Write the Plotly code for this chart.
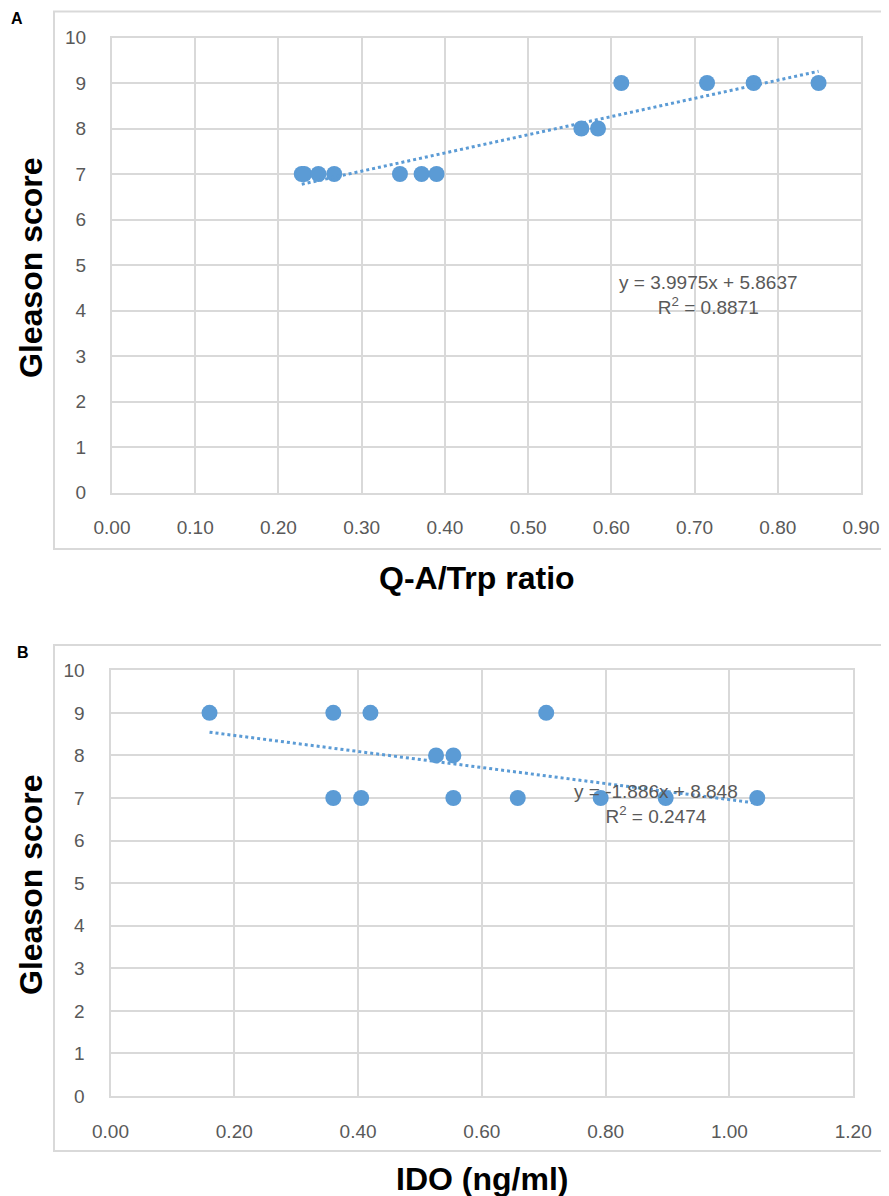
import plotly.graph_objects as go

# ---------------- data ----------------
qa_trp_ratio = [0.228, 0.231, 0.248, 0.267, 0.346, 0.372, 0.390, 0.564, 0.584, 0.612, 0.715, 0.771, 0.849]
gleason_a = [7, 7, 7, 7, 7, 7, 7, 8, 8, 9, 9, 9, 9]
trend_a = [3.9975, 5.8637]   # slope, intercept
r2_a = 0.8871

ido_ngml = [0.160, 0.360, 0.420, 0.704, 0.526, 0.554, 0.360, 0.405, 0.554, 0.658, 0.792, 0.897, 1.045]
gleason_b = [9, 9, 9, 9, 8, 8, 7, 7, 7, 7, 7, 7, 7]
trend_b = [-1.886, 8.848]
r2_b = 0.2474

x_ticks_a = [0.0, 0.1, 0.2, 0.3, 0.4, 0.5, 0.6, 0.7, 0.8, 0.9]
x_ticks_b = [0.0, 0.2, 0.4, 0.6, 0.8, 1.0, 1.2]
y_ticks = list(range(0, 11))

# ---------------- styling ----------------
OFF = 8                      # page body margin
W, H = 889 - OFF, 1196 - OFF
BLUE = "#5B9BD5"
GRID = "#D9D9D9"
TXT = "#595959"
TICKFONT = dict(family="Liberation Sans, Arial, sans-serif", size=19, color=TXT)

def px_x(p):
    return (p - OFF) / W

def px_y(p):
    return 1 - (p - OFF) / H

fig = go.Figure()

def add_panel(xs, ys, trend, xaxis, yaxis):
    fig.add_trace(go.Scatter(x=xs, y=ys, mode="markers",
                             marker=dict(size=16, color=BLUE),
                             xaxis=xaxis, yaxis=yaxis, showlegend=False,
                             hoverinfo="skip"))
    x0, x1 = min(xs), max(xs)
    fig.add_trace(go.Scatter(x=[x0, x1], y=[trend[0] * x0 + trend[1], trend[0] * x1 + trend[1]],
                             mode="lines", line=dict(color=BLUE, width=3, dash="dot"),
                             xaxis=xaxis, yaxis=yaxis, showlegend=False, hoverinfo="skip"))

add_panel(qa_trp_ratio, gleason_a, trend_a, "x", "y")
add_panel(ido_ngml, gleason_b, trend_b, "x2", "y2")

def xaxis_cfg(dom, ticks, anchor, rng):
    return dict(domain=dom, anchor=anchor, range=rng, tickvals=ticks,
                ticktext=[f"{t:.2f}" for t in ticks],
                showgrid=True, gridcolor=GRID, gridwidth=2,
                zeroline=False, showline=True, mirror=True, linecolor=GRID, linewidth=2,
                ticks="outside", ticklen=0, tickcolor="rgba(0,0,0,0)",
                ticklabelstandoff=17, tickfont=TICKFONT, fixedrange=True, automargin=False)

def yaxis_cfg(dom, anchor):
    return dict(domain=dom, anchor=anchor, range=[0, 10], tickvals=y_ticks,
                showgrid=True, gridcolor=GRID, gridwidth=2,
                zeroline=True, zerolinecolor="#BFBFBF", zerolinewidth=2,
                showline=True, mirror=True, linecolor=GRID, linewidth=2,
                ticks="outside", ticklen=0, tickcolor="rgba(0,0,0,0)",
                ticklabelstandoff=20, tickfont=TICKFONT, fixedrange=True, automargin=False)

fig.update_layout(
    width=W, height=H,
    margin=dict(l=0, r=0, t=0, b=0, autoexpand=False),
    paper_bgcolor="white", plot_bgcolor="white",
    xaxis=xaxis_cfg([px_x(112), px_x(861)], x_ticks_a, "y", [0, 0.9]),
    yaxis=yaxis_cfg([px_y(492.5), px_y(37.5)], "x"),
    xaxis2=xaxis_cfg([px_x(110.5), px_x(853.2)], x_ticks_b, "y2", [0, 1.2]),
    yaxis2=yaxis_cfg([px_y(1096), px_y(670.3)], "x2"),
)

# chart-area borders
for top, bot in [(11.5, 549), (645, 1151)]:
    fig.add_shape(type="rect", xref="paper", yref="paper",
                  x0=px_x(54), x1=px_x(892), y0=px_y(bot), y1=px_y(top),
                  line=dict(color=GRID, width=2), fillcolor="rgba(0,0,0,0)", layer="below")

def label(text, x, y, font, angle=0, align="center"):
    fig.add_annotation(text=text, x=px_x(x), y=px_y(y), xref="paper", yref="paper",
                       xanchor="center", yanchor="middle", showarrow=False,
                       textangle=angle, align=align, font=font)

# panel letters
LETTER = dict(family="Liberation Sans, Arial", size=16, color="black")
label("<b>A</b>", 17, 18, LETTER)
label("<b>B</b>", 23, 652, LETTER)

# axis titles
TITLEFONT = dict(family="Liberation Sans, Arial, sans-serif", size=32, color="black")
label("<b>Gleason score</b>", 31, 268, TITLEFONT, angle=-90)
label("<b>Gleason score</b>", 31, 885, TITLEFONT, angle=-90)
label("<b>Q-A/Trp ratio</b>", 477, 578, TITLEFONT)
label("<b>IDO (ng/ml)</b>", 482, 1179, TITLEFONT)

# equations
EQFONT = dict(family="Liberation Sans, Arial, sans-serif", size=19, color=TXT)
label(f"y = {trend_a[0]}x + {trend_a[1]}<br>R<sup>2</sup> = {r2_a}", 708, 295, EQFONT)
label(f"y = {trend_b[0]}x + {trend_b[1]}<br>R<sup>2</sup> = {r2_b}", 656, 804, EQFONT)

fig.write_html("out.html")
